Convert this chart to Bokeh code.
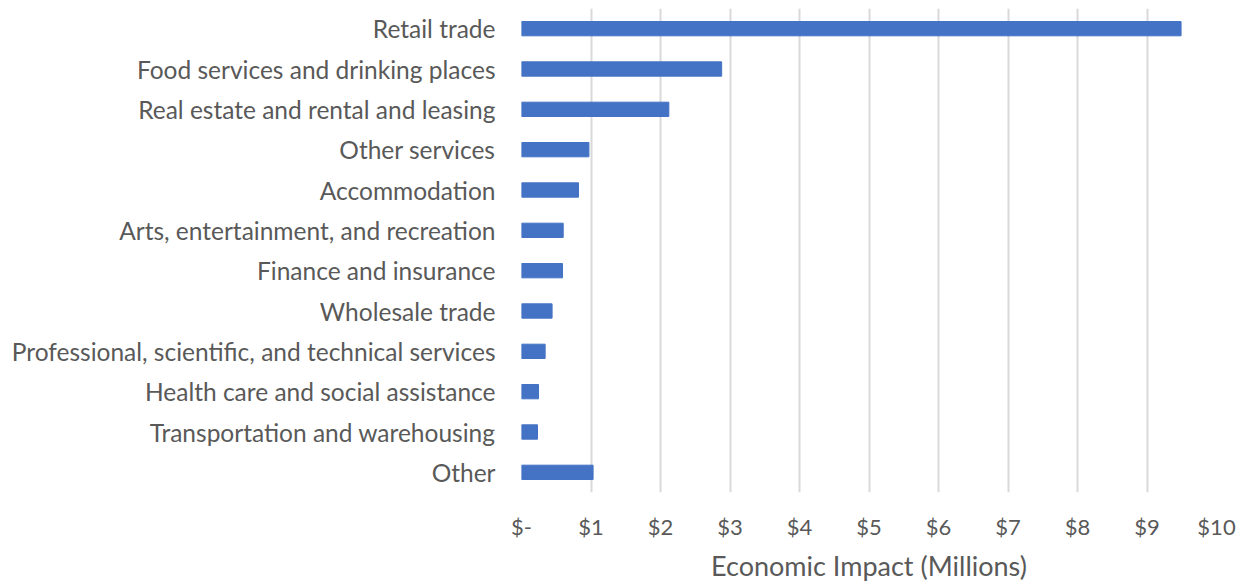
from bokeh.plotting import figure
from bokeh.models import FactorRange, Range1d, FixedTicker
from bokeh.embed import file_html
from bokeh.resources import INLINE

categories = [
    "Retail trade",
    "Food services and drinking places",
    "Real estate and rental and leasing",
    "Other services",
    "Accommodation",
    "Arts, entertainment, and recreation",
    "Finance and insurance",
    "Wholesale trade",
    "Professional, scientific, and technical services",
    "Health care and social assistance",
    "Transportation and warehousing",
    "Other",
]
values = [9.49, 2.88, 2.12, 0.97, 0.82, 0.60, 0.59, 0.44, 0.34, 0.245, 0.23, 1.03]
tick_values = list(range(0, 11))
tick_labels = ["$-"] + [f"${i}" for i in range(1, 11)]

FONT = "Lato"
TEXT_COLOR = "#595959"

p = figure(
    frame_width=695, frame_height=484,
    y_range=FactorRange(factors=list(reversed(categories)), range_padding=0),
    x_range=Range1d(0, 10),
    output_backend="svg", toolbar_location=None,
    min_border_left=521, min_border_right=28, min_border_top=8, min_border_bottom=86,
)
p.hbar(y=categories, right=values, left=0, height=0.355, color="#4472C4")

p.outline_line_color = None
p.ygrid.grid_line_color = None
p.xgrid.grid_line_color = "#d9d9d9"
p.xgrid.grid_line_width = 2

p.xaxis.ticker = FixedTicker(ticks=tick_values)
p.xaxis.major_label_overrides = {v: l for v, l in zip(tick_values, tick_labels)}
p.xaxis.axis_line_color = None
p.xaxis.major_tick_line_color = None
p.xaxis.minor_tick_line_color = None
p.xaxis.major_tick_out = 0
p.xaxis.major_tick_in = 0
p.xaxis.major_label_standoff = 20
p.xaxis.major_label_text_font = FONT
p.xaxis.major_label_text_font_size = "22px"
p.xaxis.major_label_text_color = TEXT_COLOR
p.xaxis.axis_label = "Economic Impact (Millions)"
p.xaxis.axis_label_text_font = FONT
p.xaxis.axis_label_text_font_size = "27px"
p.xaxis.axis_label_text_font_style = "normal"
p.xaxis.axis_label_text_color = TEXT_COLOR
p.xaxis.axis_label_standoff = 6

p.yaxis.axis_line_color = None
p.yaxis.major_tick_line_color = None
p.yaxis.minor_tick_line_color = None
p.yaxis.major_tick_out = 0
p.yaxis.major_tick_in = 0
p.yaxis.major_label_standoff = 26
p.yaxis.major_label_text_font = FONT
p.yaxis.major_label_text_font_size = "24.5px"
p.yaxis.major_label_text_color = TEXT_COLOR

open("out.html", "w").write(file_html(p, INLINE))
